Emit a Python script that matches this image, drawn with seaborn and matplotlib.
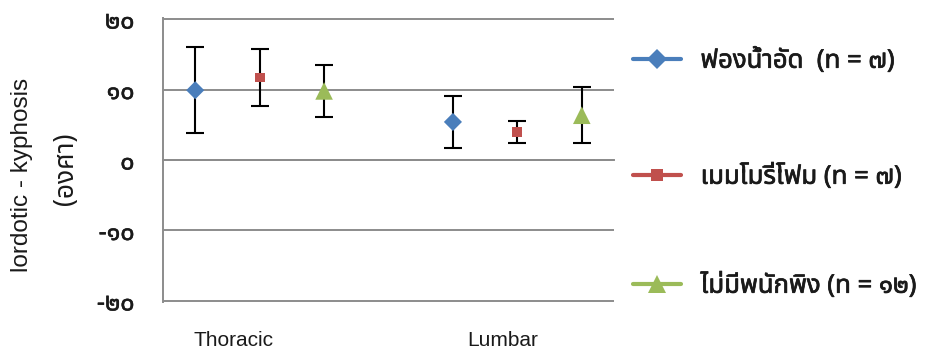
import matplotlib
matplotlib.use("Agg")
import matplotlib.pyplot as plt
from matplotlib import font_manager
from matplotlib.ft2font import FT2Font
from matplotlib.lines import Line2D
from matplotlib.transforms import blended_transform_factory
import matplotlib.patheffects as pe
import seaborn as sns
import pandas as pd

# ---------------- data ----------------
regions = ["Thoracic", "Lumbar"]
series = ["ฟองน้ำอัด  (n = ๗)", "เมมโมรี่โฟม (n = ๗)", "ไม่มีพนักพิง (n = ๑๒)"]
means_thoracic = [9.9, 11.7, 9.8]
means_lumbar = [5.4, 4.0, 6.35]
sd_thoracic = [6.1, 4.1, 3.65]
sd_lumbar = [3.65, 1.55, 3.95]
y_ticks = [-20, -10, 0, 10, 20]
y_tick_labels = ["-๒๐", "-๑๐", "๐", "๑๐", "๒๐"]
y_label_lines = ["lordotic - kyphosis", "(องศา)"]

colors = ["#4A7EBB", "#C0504D", "#9BBB59"]
markers = ["D", "s", "^"]
sizes = [85, 50, 160]

# ---------------- fonts ----------------
sns.set_style("white")


def find_thai_font():
    found = []
    for f in font_manager.fontManager.ttflist:
        try:
            ft = FT2Font(f.fname)
            if ft.get_char_index(0x0E1E) and ft.get_char_index(0x0E52):
                found.append(f.name)
        except Exception:
            pass
    for pref in ["Noto Sans Thai", "Loma", "Garuda", "Tlwg Typo", "Sarabun"]:
        if pref in found:
            return pref
    for n in found:
        if "Sans" in n:
            return n
    return found[0] if found else None


thai = find_thai_font()
fam = ["Liberation Sans", "DejaVu Sans"]
if thai:
    fam = ["Liberation Sans", thai, "DejaVu Sans"]
thai_fam = [thai, "Liberation Sans", "DejaVu Sans"] if thai else fam
plt.rcParams["font.family"] = fam

# ---------------- table ----------------
rows = []
for g, (ms, ss) in enumerate([(means_thoracic, sd_thoracic), (means_lumbar, sd_lumbar)]):
    for i, name in enumerate(series):
        rows.append({"region": regions[g], "series": name, "slot": g * 4 + i,
                     "mean": ms[i], "sd": ss[i]})
df = pd.DataFrame(rows)

# ---------------- figure ----------------
W, H = 932, 350
fig = plt.figure(figsize=(W / 100, H / 100), dpi=100)
ax = fig.add_axes([163 / W, 1 - 302 / H, (614 - 163) / W, (302 - 18) / H])

grid_c = "#8C8C8C"
txt_c = "#1A1A1A"
semi = [pe.withStroke(linewidth=0.35, foreground=txt_c)]
bold = [pe.withStroke(linewidth=0.5, foreground=txt_c)]
ax.set_ylim(-20.15, 20.15)
ax.set_xlim(-0.5, 6.5)
ax.set_yticks(y_ticks)
ax.set_yticklabels(y_tick_labels, family=thai_fam, fontsize=18, color=txt_c)
for t in ax.get_yticklabels():
    t.set_path_effects(semi)
ax.yaxis.grid(True, color=grid_c, lw=1.4)
ax.set_axisbelow(True)

for s in ["top", "right"]:
    ax.spines[s].set_visible(False)
ax.spines["left"].set_color(grid_c)
ax.spines["left"].set_linewidth(1.4)
ax.spines["bottom"].set_position(("data", 0))
ax.spines["bottom"].set_color(grid_c)
ax.spines["bottom"].set_linewidth(1.4)
ax.set_xticks([x - 0.5 for x in range(8)])
ax.set_xticklabels([])
ax.tick_params(axis="x", direction="out", length=6, width=1.4, color=grid_c)
ax.tick_params(axis="y", direction="out", length=7.5, width=1.4, color=grid_c, pad=13)

# error bars
ax.errorbar(df["slot"], df["mean"], yerr=df["sd"], fmt="none", ecolor="black",
            elinewidth=1.5, capsize=6.5, capthick=1.5, zorder=3)

# markers
sns.scatterplot(data=df, x="slot", y="mean", hue="series", style="series",
                palette=dict(zip(series, colors)), markers=dict(zip(series, markers)),
                size="series", sizes=dict(zip(series, sizes)),
                linewidth=0, legend=False, ax=ax, zorder=4)
ax.set_xlabel("")
ax.set_ylabel("")

# category labels
label_x = [0.6, 4.77]
tr = blended_transform_factory(ax.transData, fig.transFigure)
for lx, name in zip(label_x, regions):
    ax.text(lx, 1 - 341 / H, name, transform=tr, ha="center", va="center",
            fontsize=15, color=txt_c, family=fam)

# y label (two lines)
fig.text(22 / W, 1 - 175 / H, y_label_lines[0], rotation=90, ha="center", va="center",
         fontsize=17.5, color=txt_c, family=fam)
fig.text(66 / W, 1 - 169 / H, y_label_lines[1], rotation=90, ha="center", va="center",
         fontsize=19, color=txt_c, family=thai_fam)

# legend entries
leg_y = [61, 177, 286]
for name, c, m, yy in zip(series, colors, markers, leg_y):
    h = Line2D([], [], color=c, lw=3, marker=m,
               markersize={"D": 10, "s": 8, "^": 13}[m],
               markeredgewidth=0, markerfacecolor=c)
    leg = fig.legend([h], [name], loc="center left",
                     bbox_to_anchor=(633 / W, 1 - yy / H), frameon=False,
                     borderpad=0, borderaxespad=0, handlelength=1.85,
                     handletextpad=0.78, prop={"family": thai_fam, "size": 18.5})
    for t in leg.get_texts():
        t.set_color(txt_c)
        t.set_path_effects(bold)

fig.savefig("out.png", dpi=100)
